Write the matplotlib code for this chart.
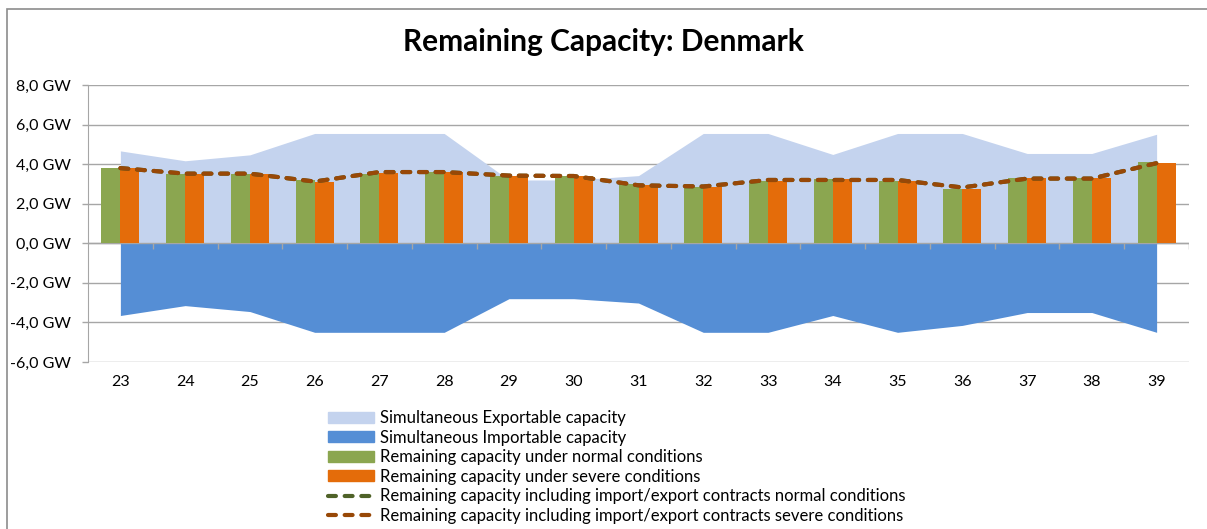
import matplotlib.pyplot as plt
from matplotlib.patches import Patch, Rectangle
from matplotlib.lines import Line2D

weeks = ["23", "24", "25", "26", "27", "28", "29", "30", "31",
         "32", "33", "34", "35", "36", "37", "38", "39"]

# GW values
exportable = [4.67, 4.17, 4.47, 5.55, 5.55, 5.55, 3.2, 3.2, 3.42,
              5.55, 5.55, 4.49, 5.55, 5.55, 4.54, 4.54, 5.51]
importable = [-3.65, -3.15, -3.45, -4.5, -4.5, -4.5, -2.8, -2.8, -3.02,
              -4.5, -4.5, -3.65, -4.5, -4.15, -3.5, -3.5, -4.5]
normal = [3.81, 3.5, 3.5, 3.19, 3.52, 3.58, 3.39, 3.39, 2.98,
          2.83, 3.15, 3.24, 3.15, 2.76, 3.29, 3.29, 4.12]
severe = [3.8, 3.5, 3.5, 3.1, 3.57, 3.58, 3.39, 3.39, 2.95,
          2.83, 3.15, 3.24, 3.15, 2.76, 3.32, 3.32, 4.08]
contracts_normal = [3.8, 3.52, 3.52, 3.12, 3.6, 3.6, 3.42, 3.4, 2.93,
                    2.87, 3.2, 3.2, 3.2, 2.82, 3.27, 3.27, 4.05]
contracts_severe = [3.8, 3.52, 3.52, 3.12, 3.6, 3.6, 3.42, 3.4, 2.93,
                    2.87, 3.2, 3.2, 3.2, 2.82, 3.27, 3.27, 4.05]
yticks = [-6, -4, -2, 0, 2, 4, 6, 8]

c_exp = "#C4D3EE"
c_imp = "#558ED5"
c_norm = "#8BA650"
c_sev = "#E46C0A"
c_line_norm = "#4F6228"
c_line_sev = "#984807"
grid_c = "#A6A6A6"
dash = (0, (1.9, 2.1))

plt.rcParams['font.family'] = ['Lato', 'DejaVu Sans']

fig = plt.figure(figsize=(12.07, 5.29), dpi=100)
ax = fig.add_axes([88 / 1207, 1 - 362 / 529, (1189 - 88) / 1207, (362 - 85) / 529])

x = list(range(len(weeks)))
bw = 0.294

ax.fill_between(x, 0, exportable, color=c_exp, lw=0, zorder=2)
ax.fill_between(x, 0, importable, color=c_imp, lw=0, zorder=2)
ax.bar([i - bw / 2 for i in x], normal, width=bw, color=c_norm, zorder=3)
ax.bar([i + bw / 2 for i in x], severe, width=bw, color=c_sev, zorder=3)
ax.plot(x, contracts_normal, color=c_line_norm, lw=3, ls=dash,
        dash_capstyle='round', zorder=4)
ax.plot(x, contracts_severe, color=c_line_sev, lw=3, ls=dash,
        dash_capstyle='round', zorder=5)

ax.set_xlim(-0.5, len(weeks) - 0.5)
ax.set_ylim(-6, 8)
ax.set_yticks(yticks)
ax.set_yticklabels([f"{v:.1f}".replace(".", ",") + " GW" for v in yticks], fontsize=11.5)
ax.set_xticks(x)
ax.set_xticklabels(weeks, fontsize=11.5)
ax.tick_params(axis='x', length=0, pad=9)
ax.tick_params(axis='y', length=4.3, color=grid_c, width=1, pad=8)
for yv in yticks:
    ax.axhline(yv, color=grid_c, lw=1, zorder=1)
# category axis at zero with boundary ticks
ax.axhline(0, color=grid_c, lw=1, zorder=2.5)
ax.vlines([i + 0.5 for i in x], -0.28, 0, color=grid_c, lw=1, zorder=2.5)
for s in ['top', 'right', 'bottom']:
    ax.spines[s].set_visible(False)
ax.spines['left'].set_color(grid_c)

fig.text(0.5, 1 - 42 / 529, "Remaining Capacity: Denmark", ha='center', va='center',
         fontsize=21.5, fontweight='bold')

# chart border (left and top visible)
fig.patches.append(Rectangle((7 / 1207, -0.1), 1.2, 1 - 9 / 529 + 0.1, transform=fig.transFigure,
                             fill=False, edgecolor="#8C8C8C", lw=1.2))

handles = [
    Patch(color=c_exp, label="Simultaneous Exportable capacity"),
    Patch(color=c_imp, label="Simultaneous Importable capacity"),
    Patch(color=c_norm, label="Remaining capacity under normal conditions"),
    Patch(color=c_sev, label="Remaining capacity under severe conditions"),
    Line2D([], [], color=c_line_norm, lw=3, ls=dash, dash_capstyle='round',
           label="Remaining capacity including import/export contracts normal conditions"),
    Line2D([], [], color=c_line_sev, lw=3, ls=dash, dash_capstyle='round',
           label="Remaining capacity including import/export contracts severe conditions"),
]
fig.legend(handles=handles, loc='upper left', bbox_to_anchor=(328 / 1207, 1 - 410 / 529),
           frameon=False, fontsize=12, handlelength=2.75, handleheight=0.65,
           handletextpad=0.35, labelspacing=0.215, borderaxespad=0, borderpad=0)

fig.savefig("out.png", dpi=100)
